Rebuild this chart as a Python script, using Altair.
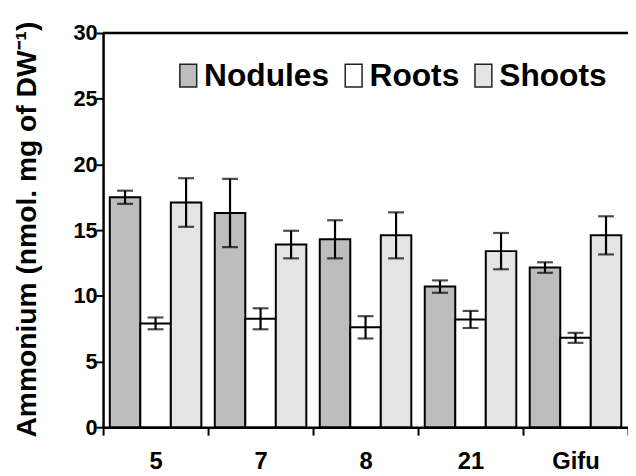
import altair as alt
import pandas as pd

groups = ["5", "7", "8", "21", "Gifu"]
series = ["Nodules", "Roots", "Shoots"]
colors = ["#bdbdbd", "#ffffff", "#e4e4e4"]

nodules = [17.5, 16.3, 14.3, 10.7, 12.15]
nodules_err = [0.5, 2.6, 1.45, 0.47, 0.4]
roots = [7.9, 8.25, 7.6, 8.2, 6.8]
roots_err = [0.45, 0.8, 0.85, 0.65, 0.38]
shoots = [17.1, 13.9, 14.6, 13.4, 14.6]
shoots_err = [1.85, 1.05, 1.75, 1.38, 1.45]

rows = []
for s, vals, errs in [("Nodules", nodules, nodules_err),
                      ("Roots", roots, roots_err),
                      ("Shoots", shoots, shoots_err)]:
    for g, v, e in zip(groups, vals, errs):
        rows.append({"group": g, "series": s, "value": v, "lo": v - e, "hi": v + e})
df = pd.DataFrame(rows)

FONT = "Liberation Sans"
W, H = 530, 398

x = alt.X("group:N", sort=groups,
          scale=alt.Scale(paddingInner=0, paddingOuter=0),
          axis=alt.Axis(title=None, labelAngle=0, tickBand="extent", tickSize=8,
                        tickWidth=2, domainWidth=2.5, labelFont=FONT, labelFontSize=24,
                        labelFontWeight="bold", labelPadding=15, labelColor="black"))
xo = alt.XOffset("series:N", sort=series,
                 scale=alt.Scale(paddingInner=0, paddingOuter=0.22))

base = alt.Chart(df)

bars = base.mark_bar(stroke="black", strokeWidth=2).encode(
    x=x,
    xOffset=xo,
    y=alt.Y("value:Q", scale=alt.Scale(domain=[0, 30]),
            axis=alt.Axis(values=[0, 5, 10, 15, 20, 25, 30], grid=False,
                          title="Ammonium (nmol. mg of DW⁻¹)",
                          titleFont=FONT, titleFontSize=28.5, titleFontWeight="bold",
                          titleColor="black", titlePadding=32, titleY=198,
                          labelFont=FONT, labelFontSize=22, labelFontWeight="bold",
                          labelColor="black", labelPadding=-1,
                          tickSize=7, tickWidth=2, domainWidth=2.5)),
    fill=alt.Fill("series:N", sort=series,
                  scale=alt.Scale(domain=series, range=colors),
                  legend=alt.Legend(title=None, orient="none", legendX=70, legendY=27,
                                    direction="horizontal",
                                    symbolType="M-0.74,-1H0.74V1H-0.74Z",
                                    symbolSize=529, symbolStrokeColor="#222222",
                                    symbolStrokeWidth=1.5,
                                    labelFont=FONT, labelFontSize=32,
                                    labelFontWeight="bold", labelColor="black",
                                    labelOffset=0, columnPadding=8)),
)

err = base.mark_rule(color="black", strokeWidth=2.2).encode(
    x=alt.X("group:N", sort=groups), xOffset=xo,
    y="lo:Q", y2="hi:Q")
cap_hi = base.mark_tick(color="black", thickness=2.2, size=16).encode(
    x=alt.X("group:N", sort=groups), xOffset=xo, y="hi:Q")
cap_lo = base.mark_tick(color="black", thickness=2.2, size=16).encode(
    x=alt.X("group:N", sort=groups), xOffset=xo, y="lo:Q")

top = alt.Chart(pd.DataFrame({"a": [0]})).mark_rule(color="black", strokeWidth=2.5).encode(
    x=alt.value(0), x2=alt.value(W), y=alt.value(0))

chart = alt.layer(bars, err, cap_hi, cap_lo, top).properties(
    width=W, height=H,
    autosize=alt.AutoSizeParams(type="none"),
    padding={"top": 23, "left": 96, "right": 0, "bottom": 45},
).configure_view(stroke=None).configure_axis(domainColor="black", tickColor="black")

chart.save("out.html", embed_options={"renderer": "svg", "actions": False})
